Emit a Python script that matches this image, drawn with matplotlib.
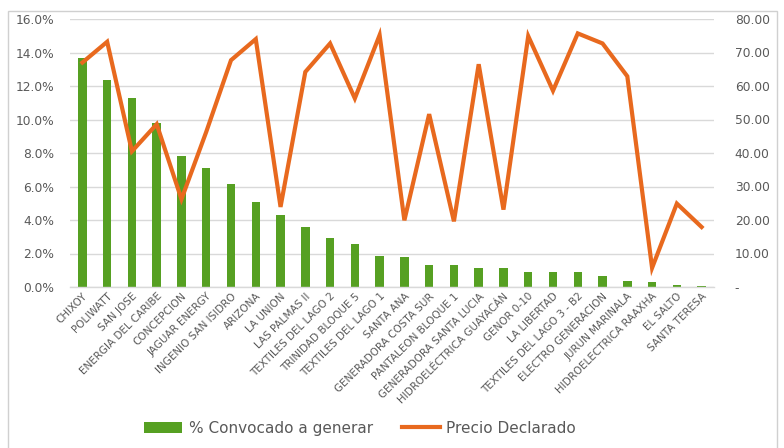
import matplotlib
matplotlib.use("Agg")
import matplotlib.pyplot as plt
from matplotlib.patches import Rectangle
from matplotlib.ticker import FuncFormatter, MultipleLocator
import numpy as np

categories = ["CHIXOY", "POLIWATT", "SAN JOSE", "ENERGIA DEL CARIBE", "CONCEPCION",
              "JAGUAR ENERGY", "INGENIO SAN ISIDRO", "ARIZONA", "LA UNION", "LAS PALMAS II",
              "TEXTILES DEL LAGO 2", "TRINIDAD BLOQUE 5", "TEXTILES DEL LAGO 1", "SANTA ANA",
              "GENERADORA COSTA SUR", "PANTALEON BLOQUE 1", "GENERADORA SANTA LUCIA",
              "HIDROELÉCTRICA GUAYACÁN", "GENOR 0-10", "LA LIBERTAD", "TEXTILES DEL LAGO 3 - B2",
              "ELECTRO GENERACION", "JURUN MARINALA", "HIDROELECTRICA RAAXHA", "EL SALTO",
              "SANTA TERESA"]

convocado = [13.67, 12.35, 11.31, 9.82, 7.83, 7.11, 6.16, 5.10, 4.30, 3.61,
             2.91, 2.55, 1.85, 1.77, 1.33, 1.33, 1.16, 1.16, 0.90, 0.90,
             0.90, 0.64, 0.36, 0.28, 0.10, 0.08]

precio = [67.0, 73.2, 40.5, 48.6, 26.2, 46.3, 67.7, 74.0, 23.9, 64.2,
          72.7, 56.3, 75.2, 19.9, 51.6, 19.6, 66.5, 23.1, 74.9, 58.6,
          75.7, 72.7, 62.9, 5.7, 24.9, 17.9]

green = "#56A022"
orange = "#E8691E"
gray_text = "#595959"
grid_c = "#D9D9D9"

fig = plt.figure(figsize=(7.84, 4.48), dpi=100)
fig.patches.append(Rectangle((8/784, -0.05), (777-8)/784, 1 - 11/448 + 0.05,
                             transform=fig.transFigure, fill=False,
                             edgecolor="#D0D0D0", linewidth=1.0))

ax = fig.add_axes([70/784, 1 - 287/448, (714-70)/784, (287-19)/448])
x = np.arange(len(categories))
bars = ax.bar(x, convocado, width=0.34, color=green, zorder=2,
              label="% Convocado a generar")
ax.set_xlim(-0.5, len(categories) - 0.5)
ax.set_ylim(0, 16)
ax.yaxis.set_major_locator(MultipleLocator(2))
ax.yaxis.set_major_formatter(FuncFormatter(lambda v, p: f"{v:.1f}%"))
ax.grid(axis="y", color=grid_c, linewidth=1.0, zorder=0)
ax.set_axisbelow(True)
for s in ["top", "right", "left"]:
    ax.spines[s].set_visible(False)
ax.spines["bottom"].set_color(grid_c)
ax.spines["bottom"].set_linewidth(1.0)
ax.tick_params(axis="y", length=0, pad=11.5, labelsize=8.8, labelcolor=gray_text)
ax.tick_params(axis="x", length=0, pad=3, labelsize=7.5, labelcolor=gray_text)
ax.set_xticks(x)
ax.set_xticklabels(categories, rotation=45, ha="right", rotation_mode="anchor")

ax2 = ax.twinx()
line, = ax2.plot(x, precio, color=orange, linewidth=3.0, solid_joinstyle="miter",
                 label="Precio Declarado", zorder=3)
ax2.set_ylim(0, 80)
ax2.yaxis.set_major_locator(MultipleLocator(10))
ax2.yaxis.set_major_formatter(FuncFormatter(lambda v, p: "-" if v == 0 else f"{v:.2f}"))
for s in ["top", "right", "left", "bottom"]:
    ax2.spines[s].set_visible(False)
ax2.tick_params(axis="y", length=0, pad=15, labelsize=8.8, labelcolor=gray_text)

fig.legend([bars, line], ["% Convocado a generar", "Precio Declarado"],
           loc="center", bbox_to_anchor=(360/784, 1 - 428/448), ncol=2,
           frameon=False, fontsize=11, labelcolor=gray_text,
           handlelength=2.5, columnspacing=1.9, handletextpad=0.4)

fig.savefig("out.png", dpi=100)
